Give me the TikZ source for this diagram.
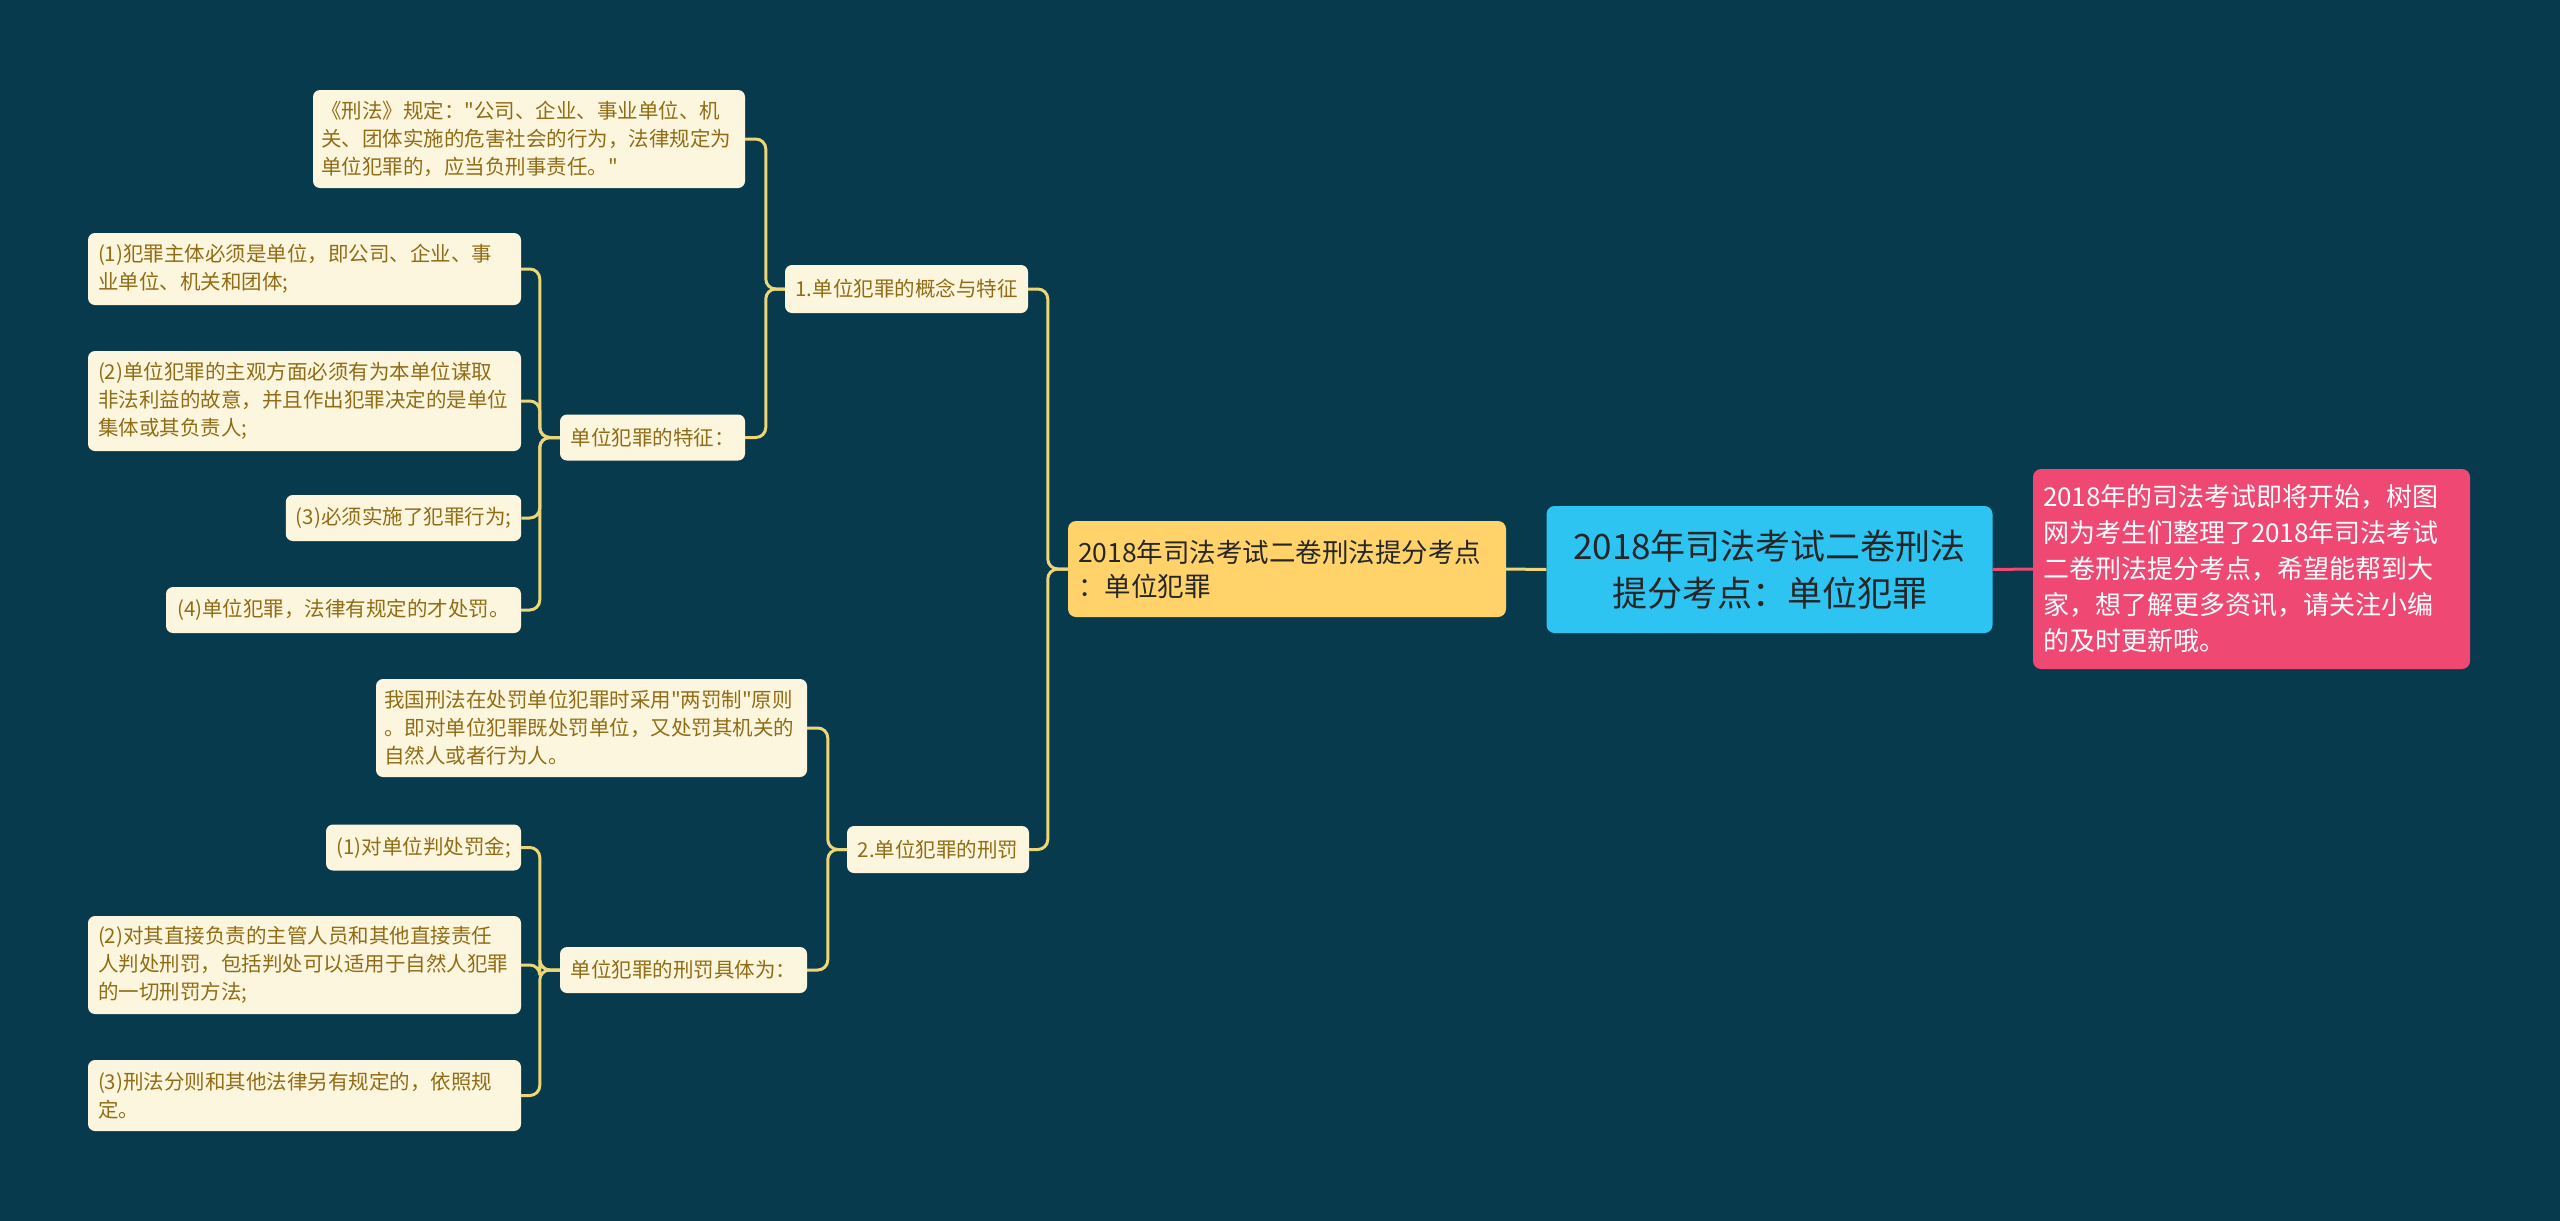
\documentclass[tikz,border=0pt]{standalone}
\usepackage{fontspec}
\setmainfont{Noto Sans CJK SC}
\newcommand{\sq}{\XeTeXglyph\XeTeXcharglyph34\relax}
\definecolor{bg}{RGB}{8,58,77}
\definecolor{cream}{RGB}{253,246,222}
\definecolor{leaftext}{RGB}{145,108,22}
\definecolor{linecol}{RGB}{236,214,120}
\definecolor{yellowfill}{RGB}{255,211,106}
\definecolor{bluefill}{RGB}{46,196,242}
\definecolor{pinkfill}{RGB}{238,72,115}
\definecolor{darktext}{RGB}{38,38,38}
\begin{document}
\begin{tikzpicture}[x=1pt,y=-1pt,
  leaf/.style={fill=cream, text=leaftext, rounded corners=7pt, inner xsep=10pt, inner ysep=0pt,
    font=\fontsize{20.5pt}{28pt}\selectfont, align=left},
  conn/.style={draw=linecol, line width=3pt, rounded corners=10pt},
]
\fill[bg] (0,0) rectangle (2560,1221);
\useasboundingbox (0,0) rectangle (2560,1221);

% central nodes
\node[fill=bluefill, text=darktext, rounded corners=8pt, minimum width=446pt, minimum height=127pt,
  align=center, font=\fontsize{35pt}{47pt}\selectfont] (root) at (1769.5,569.5)
  {2018年司法考试二卷刑法\\提分考点：单位犯罪};
\node[fill=pinkfill, text=white, rounded corners=8pt, inner xsep=10pt, text width=417pt,
  minimum height=200pt, align=left, font=\fontsize{26pt}{36pt}\selectfont] (note) at (2251.5,569)
  {2018年的司法考试即将开始，树图\\网为考生们整理了2018年司法考试\\二卷刑法提分考点，希望能帮到大\\家，想了解更多资讯，请关注小编\\的及时更新哦。};
\node[fill=yellowfill, text=darktext, rounded corners=8pt, inner xsep=10pt, text width=418pt,
  minimum height=96pt, align=left, font=\fontsize{26.5pt}{34pt}\selectfont] (main) at (1287,569)
  {2018年司法考试二卷刑法提分考点\\：单位犯罪};

% branch 1
\node[leaf, minimum width=243pt, minimum height=48pt, align=center] (a1) at (906.5,289) {1.单位犯罪的概念与特征};
\node[leaf, inner xsep=8pt, text width=416pt, minimum height=98pt] (q) at (529,139)
  {《刑法》规定：\sq 公司、企业、事业单位、机\\关、团体实施的危害社会的行为，法律规定为\\单位犯罪的，应当负刑事责任。\sq};
\node[leaf, minimum width=185pt, minimum height=46pt, align=center] (t1) at (652.5,437.5) {单位犯罪的特征：};
\node[leaf, text width=413pt, minimum height=72pt] (c1) at (304.5,269)
  {(1)犯罪主体必须是单位，即公司、企业、事\\业单位、机关和团体;};
\node[leaf, text width=413pt, minimum height=100pt] (c2) at (304.5,401)
  {(2)单位犯罪的主观方面必须有为本单位谋取\\非法利益的故意，并且作出犯罪决定的是单位\\集体或其负责人;};
\node[leaf, minimum width=235pt, minimum height=46pt, align=center] (c3) at (403.5,518) {(3)必须实施了犯罪行为;};
\node[leaf, minimum width=355pt, minimum height=46pt, align=center] (c4) at (343.5,610) {(4)单位犯罪，法律有规定的才处罚。};

% branch 2
\node[leaf, minimum width=182pt, minimum height=47pt, align=center] (a2) at (938,849.5) {2.单位犯罪的刑罚};
\node[leaf, inner xsep=8pt, text width=415pt, minimum height=98pt] (w) at (591.5,728)
  {我国刑法在处罚单位犯罪时采用\sq 两罚制\sq 原则\\。即对单位犯罪既处罚单位，又处罚其机关的\\自然人或者行为人。};
\node[leaf, minimum width=247pt, minimum height=46pt, align=center] (t2) at (683.5,970) {单位犯罪的刑罚具体为：};
\node[leaf, minimum width=195pt, minimum height=46pt, align=center] (d1) at (423.5,847.5) {(1)对单位判处罚金;};
\node[leaf, text width=413pt, minimum height=98pt] (d2) at (304.5,965)
  {(2)对其直接负责的主管人员和其他直接责任\\人判处刑罚，包括判处可以适用于自然人犯罪\\的一切刑罚方法;};
\node[leaf, text width=413pt, minimum height=71pt] (d3) at (304.5,1095.5)
  {(3)刑法分则和其他法律另有规定的，依照规\\定。};

% connectors
\draw[draw=pinkfill, line width=3pt] (root.east) -- (note.west);
\draw[conn] (root.west) -- (main.east);
\draw[conn] (main.west) -- ++(-20,0) |- (a1.east);
\draw[conn] (main.west) -- ++(-20,0) |- (a2.east);
\draw[conn] (a1.west) -- ++(-19,0) |- (q.east);
\draw[conn] (a1.west) -- ++(-19,0) |- (t1.east);
\draw[conn] (t1.west) -- ++(-20,0) |- (c1.east);
\draw[conn] (t1.west) -- ++(-20,0) |- (c2.east);
\draw[conn] (t1.west) -- ++(-20,0) |- (c3.east);
\draw[conn] (t1.west) -- ++(-20,0) |- (c4.east);
\draw[conn] (a2.west) -- ++(-19,0) |- (w.east);
\draw[conn] (a2.west) -- ++(-19,0) |- (t2.east);
\draw[conn] (t2.west) -- ++(-20,0) |- (d1.east);
\draw[conn] (t2.west) -- ++(-20,0) |- (d2.east);
\draw[conn] (t2.west) -- ++(-20,0) |- (d3.east);
\end{tikzpicture}
\end{document}
